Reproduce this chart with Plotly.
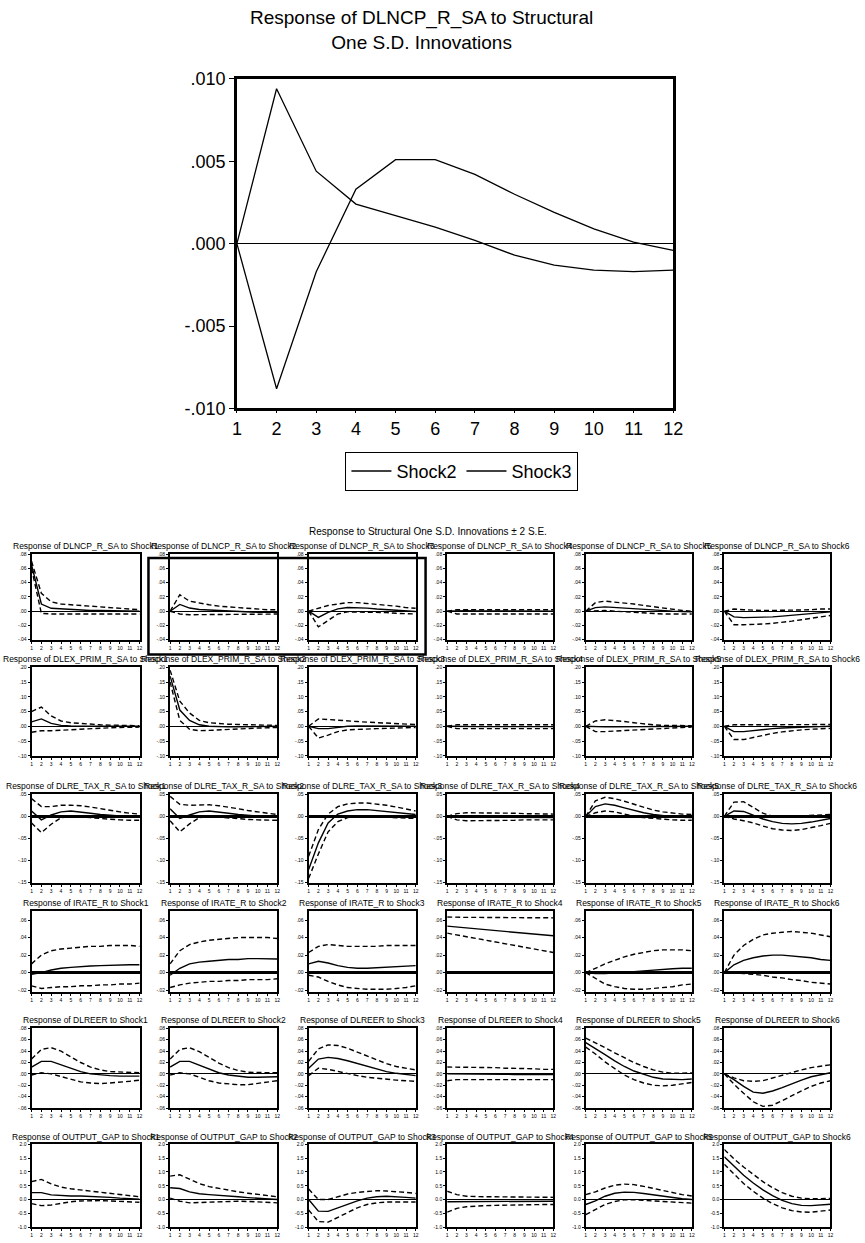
import plotly.graph_objects as go

periods = list(range(1, 13))

# ---------------- Top chart data ----------------
top_shock2 = [0.0, 0.0094, 0.0044, 0.0024, 0.0017, 0.0010, 0.0002, -0.0007, -0.0013, -0.0016, -0.0017, -0.0016]
top_shock3 = [0.0, -0.0088, -0.0017, 0.0033, 0.0051, 0.0051, 0.0042, 0.0030, 0.0019, 0.0009, 0.0001, -0.0004]
top_yticks = [-0.010, -0.005, 0.0, 0.005, 0.010]
top_yticktext = ["-.010", "-.005", ".000", ".005", ".010"]

# ---------------- Grid data (rows = responses, columns = Shock1..Shock6) ----------------
row_vars = ["DLNCP_R_SA", "DLEX_PRIM_R_SA", "DLRE_TAX_R_SA", "IRATE_R", "DLREER", "OUTPUT_GAP"]
shocks = ["Shock1", "Shock2", "Shock3", "Shock4", "Shock5", "Shock6"]

DLNCP_mean = [
    [0.065, 0.010, 0.004, 0.003, 0.002, 0.0015, 0.001, 0.001, 0.0005, 0.0003, 0.0002, 0.0],
    [0.0, 0.0094, 0.0044, 0.0024, 0.0017, 0.0010, 0.0002, -0.0007, -0.0013, -0.0016, -0.0017, -0.0016],
    [0.0, -0.0088, -0.0017, 0.0033, 0.0051, 0.0051, 0.0042, 0.0030, 0.0019, 0.0009, 0.0001, -0.0004],
    [0.0, 0.0005, 0.0005, 0.0004, 0.0003, 0.0002, 0.0001, 0.0, 0.0, -0.0001, -0.0001, -0.0001],
    [0.0, 0.005, 0.006, 0.005, 0.004, 0.003, 0.002, 0.001, 0.0005, 0.0, -0.0005, -0.001],
    [0.0, -0.008, -0.009, -0.009, -0.009, -0.008, -0.007, -0.006, -0.005, -0.003, -0.002, -0.001],
]
DLNCP_upper = [
    [0.070, 0.025, 0.013, 0.010, 0.009, 0.008, 0.007, 0.006, 0.005, 0.004, 0.003, 0.002],
    [0.0, 0.023, 0.014, 0.011, 0.009, 0.007, 0.006, 0.005, 0.004, 0.003, 0.002, 0.002],
    [0.0, 0.004, 0.008, 0.010, 0.012, 0.012, 0.011, 0.010, 0.008, 0.007, 0.005, 0.004],
    [0.0, 0.002, 0.002, 0.002, 0.002, 0.002, 0.002, 0.002, 0.002, 0.002, 0.002, 0.002],
    [0.0, 0.012, 0.014, 0.013, 0.012, 0.010, 0.008, 0.006, 0.004, 0.002, 0.001, 0.0],
    [0.0, 0.003, 0.002, 0.001, 0.001, 0.001, 0.001, 0.001, 0.002, 0.002, 0.003, 0.003],
]
DLNCP_lower = [
    [0.060, -0.003, -0.004, -0.004, -0.004, -0.004, -0.004, -0.004, -0.004, -0.004, -0.004, -0.004],
    [0.0, -0.004, -0.005, -0.005, -0.005, -0.005, -0.005, -0.005, -0.005, -0.005, -0.005, -0.004],
    [0.0, -0.022, -0.013, -0.004, -0.001, -0.001, -0.001, -0.002, -0.002, -0.003, -0.004, -0.004],
    [0.0, -0.004, -0.004, -0.004, -0.004, -0.004, -0.004, -0.004, -0.004, -0.004, -0.004, -0.004],
    [0.0, 0.001, 0.001, 0.0, -0.001, -0.002, -0.003, -0.004, -0.004, -0.004, -0.004, -0.004],
    [0.0, -0.019, -0.019, -0.019, -0.018, -0.017, -0.016, -0.014, -0.012, -0.010, -0.008, -0.006],
]

DLEX_mean = [
    [0.015, 0.025, 0.010, 0.003, 0.001, 0.0005, 0.0, 0.0, 0.0, 0.0, 0.0, 0.0],
    [0.17, 0.055, 0.020, 0.005, 0.0, -0.002, -0.002, -0.002, -0.001, -0.001, 0.0, 0.0],
    [0.0, -0.008, -0.008, -0.003, 0.0, 0.001, 0.001, 0.001, 0.001, 0.0, 0.0, 0.0],
    [0.0, -0.001, -0.001, -0.001, -0.001, -0.001, -0.001, -0.001, -0.001, -0.001, -0.001, -0.001],
    [0.0, -0.002, -0.002, -0.002, -0.002, -0.001, -0.001, 0.0, 0.0, 0.0, 0.0, 0.0],
    [0.0, -0.018, -0.018, -0.014, -0.011, -0.008, -0.006, -0.004, -0.003, -0.002, -0.001, 0.0],
]
DLEX_upper = [
    [0.050, 0.065, 0.035, 0.018, 0.012, 0.009, 0.007, 0.005, 0.004, 0.003, 0.002, 0.002],
    [0.19, 0.085, 0.045, 0.020, 0.012, 0.009, 0.007, 0.006, 0.005, 0.004, 0.003, 0.003],
    [0.0, 0.025, 0.023, 0.020, 0.018, 0.016, 0.014, 0.012, 0.010, 0.008, 0.007, 0.006],
    [0.0, 0.005, 0.005, 0.005, 0.005, 0.005, 0.005, 0.005, 0.005, 0.005, 0.005, 0.005],
    [0.0, 0.018, 0.022, 0.020, 0.016, 0.012, 0.008, 0.005, 0.003, 0.002, 0.002, 0.002],
    [0.0, 0.005, 0.005, 0.005, 0.005, 0.005, 0.006, 0.006, 0.006, 0.006, 0.006, 0.006],
]
DLEX_lower = [
    [-0.020, -0.015, -0.015, -0.013, -0.011, -0.009, -0.007, -0.006, -0.005, -0.004, -0.004, -0.003],
    [0.15, 0.020, -0.010, -0.015, -0.014, -0.012, -0.010, -0.008, -0.007, -0.006, -0.005, -0.004],
    [0.0, -0.040, -0.030, -0.018, -0.012, -0.010, -0.009, -0.008, -0.007, -0.006, -0.005, -0.004],
    [0.0, -0.008, -0.008, -0.008, -0.008, -0.008, -0.008, -0.008, -0.008, -0.008, -0.008, -0.008],
    [0.0, -0.018, -0.018, -0.016, -0.014, -0.012, -0.010, -0.008, -0.006, -0.005, -0.004, -0.003],
    [0.0, -0.045, -0.045, -0.038, -0.030, -0.024, -0.019, -0.015, -0.012, -0.010, -0.008, -0.007],
]

DLRE_mean = [
    [0.012, -0.008, 0.003, 0.010, 0.012, 0.010, 0.007, 0.004, 0.002, 0.0, -0.001, -0.001],
    [0.017, -0.005, 0.003, 0.010, 0.012, 0.010, 0.007, 0.004, 0.002, 0.0, -0.001, -0.001],
    [-0.120, -0.060, -0.015, 0.005, 0.012, 0.015, 0.015, 0.013, 0.011, 0.008, 0.006, 0.004],
    [0.0, -0.001, -0.001, -0.002, -0.002, -0.002, -0.002, -0.002, -0.003, -0.003, -0.003, -0.003],
    [0.0, 0.022, 0.028, 0.025, 0.019, 0.013, 0.008, 0.004, 0.001, -0.001, -0.002, -0.003],
    [0.0, 0.012, 0.011, 0.003, -0.006, -0.012, -0.016, -0.017, -0.016, -0.013, -0.009, -0.005],
]
DLRE_upper = [
    [0.040, 0.022, 0.022, 0.025, 0.025, 0.024, 0.021, 0.017, 0.013, 0.010, 0.007, 0.005],
    [0.045, 0.027, 0.025, 0.026, 0.026, 0.024, 0.021, 0.017, 0.013, 0.010, 0.007, 0.004],
    [-0.090, -0.030, 0.005, 0.022, 0.028, 0.030, 0.030, 0.028, 0.025, 0.021, 0.017, 0.012],
    [0.0, 0.006, 0.008, 0.008, 0.008, 0.008, 0.007, 0.007, 0.006, 0.006, 0.005, 0.005],
    [0.0, 0.035, 0.043, 0.040, 0.034, 0.027, 0.020, 0.014, 0.010, 0.007, 0.005, 0.004],
    [0.0, 0.032, 0.033, 0.020, 0.007, 0.0, -0.001, 0.0, 0.001, 0.002, 0.003, 0.004],
]
DLRE_lower = [
    [-0.015, -0.037, -0.018, -0.003, 0.0, -0.001, -0.003, -0.005, -0.007, -0.008, -0.009, -0.009],
    [-0.010, -0.035, -0.017, -0.003, 0.0, -0.002, -0.004, -0.006, -0.007, -0.008, -0.009, -0.009],
    [-0.140, -0.085, -0.035, -0.012, -0.003, 0.0, 0.0, -0.001, -0.002, -0.003, -0.004, -0.005],
    [0.0, -0.008, -0.010, -0.010, -0.010, -0.009, -0.009, -0.009, -0.008, -0.008, -0.008, -0.008],
    [0.0, 0.008, 0.012, 0.010, 0.005, 0.0, -0.003, -0.005, -0.007, -0.008, -0.009, -0.009],
    [0.0, -0.006, -0.010, -0.015, -0.022, -0.028, -0.031, -0.032, -0.030, -0.026, -0.021, -0.016],
]

IRATE_mean = [
    [-0.002, 0.0, 0.003, 0.005, 0.006, 0.007, 0.0075, 0.008, 0.0085, 0.009, 0.009, 0.009],
    [-0.003, 0.005, 0.010, 0.012, 0.013, 0.014, 0.015, 0.015, 0.016, 0.016, 0.016, 0.0155],
    [0.010, 0.013, 0.011, 0.008, 0.006, 0.005, 0.005, 0.0055, 0.006, 0.0065, 0.007, 0.008],
    [0.053, 0.052, 0.051, 0.050, 0.049, 0.048, 0.047, 0.046, 0.045, 0.044, 0.043, 0.042],
    [0.0, -0.001, -0.001, -0.0005, 0.0, 0.001, 0.002, 0.003, 0.004, 0.0045, 0.005, 0.005],
    [0.0, 0.009, 0.014, 0.017, 0.019, 0.020, 0.020, 0.019, 0.018, 0.017, 0.015, 0.014],
]
IRATE_upper = [
    [0.010, 0.020, 0.025, 0.027, 0.028, 0.029, 0.030, 0.030, 0.031, 0.031, 0.031, 0.030],
    [0.010, 0.025, 0.032, 0.035, 0.037, 0.038, 0.039, 0.040, 0.040, 0.040, 0.040, 0.039],
    [0.023, 0.030, 0.032, 0.031, 0.030, 0.030, 0.030, 0.030, 0.031, 0.031, 0.031, 0.031],
    [0.0635, 0.063, 0.063, 0.063, 0.063, 0.063, 0.0625, 0.0625, 0.0625, 0.0625, 0.0625, 0.0625],
    [0.0, 0.005, 0.010, 0.014, 0.018, 0.021, 0.023, 0.025, 0.026, 0.026, 0.026, 0.025],
    [0.0, 0.020, 0.031, 0.038, 0.043, 0.045, 0.046, 0.047, 0.046, 0.045, 0.043, 0.041],
]
IRATE_lower = [
    [-0.015, -0.018, -0.017, -0.016, -0.016, -0.015, -0.015, -0.014, -0.014, -0.013, -0.013, -0.012],
    [-0.017, -0.014, -0.012, -0.011, -0.010, -0.010, -0.009, -0.009, -0.008, -0.008, -0.008, -0.007],
    [-0.003, -0.005, -0.010, -0.014, -0.017, -0.018, -0.019, -0.019, -0.019, -0.018, -0.017, -0.015],
    [0.045, 0.043, 0.041, 0.039, 0.037, 0.035, 0.033, 0.031, 0.029, 0.027, 0.025, 0.023],
    [0.0, -0.007, -0.013, -0.016, -0.018, -0.019, -0.019, -0.018, -0.017, -0.016, -0.014, -0.013],
    [0.0, 0.0, -0.001, -0.002, -0.003, -0.005, -0.006, -0.008, -0.009, -0.011, -0.012, -0.013],
]

DLREER_mean = [
    [0.012, 0.022, 0.022, 0.016, 0.010, 0.004, 0.0, -0.002, -0.003, -0.004, -0.004, -0.004],
    [0.012, 0.022, 0.022, 0.015, 0.008, 0.002, -0.002, -0.004, -0.006, -0.006, -0.005, -0.005],
    [0.010, 0.026, 0.029, 0.027, 0.023, 0.018, 0.013, 0.008, 0.004, 0.001, -0.001, -0.003],
    [0.0, 0.0, 0.0005, 0.0005, 0.0, 0.0, -0.0005, -0.001, -0.001, -0.001, -0.001, -0.001],
    [0.055, 0.045, 0.034, 0.023, 0.013, 0.005, -0.001, -0.006, -0.009, -0.010, -0.010, -0.009],
    [0.0, -0.010, -0.022, -0.032, -0.034, -0.030, -0.024, -0.017, -0.011, -0.005, -0.001, 0.002],
]
DLREER_upper = [
    [0.026, 0.043, 0.046, 0.040, 0.030, 0.020, 0.012, 0.007, 0.004, 0.003, 0.002, 0.002],
    [0.026, 0.043, 0.046, 0.039, 0.029, 0.019, 0.011, 0.006, 0.003, 0.002, 0.002, 0.002],
    [0.022, 0.044, 0.051, 0.050, 0.045, 0.038, 0.031, 0.024, 0.018, 0.013, 0.010, 0.007],
    [0.012, 0.012, 0.012, 0.012, 0.011, 0.011, 0.010, 0.010, 0.009, 0.009, 0.008, 0.008],
    [0.063, 0.055, 0.046, 0.037, 0.028, 0.020, 0.013, 0.007, 0.003, 0.001, 0.001, 0.002],
    [0.0, -0.007, -0.012, -0.013, -0.012, -0.007, -0.002, 0.003, 0.007, 0.011, 0.014, 0.016],
]
DLREER_lower = [
    [-0.002, 0.002, 0.0, -0.005, -0.010, -0.014, -0.016, -0.017, -0.016, -0.015, -0.013, -0.011],
    [-0.002, 0.002, 0.0, -0.006, -0.012, -0.016, -0.018, -0.019, -0.019, -0.017, -0.015, -0.012],
    [-0.003, 0.010, 0.008, 0.004, 0.0, -0.003, -0.006, -0.008, -0.010, -0.011, -0.012, -0.013],
    [-0.012, -0.010, -0.010, -0.010, -0.010, -0.010, -0.010, -0.010, -0.010, -0.010, -0.010, -0.010],
    [0.047, 0.035, 0.021, 0.009, -0.002, -0.010, -0.016, -0.020, -0.021, -0.020, -0.018, -0.015],
    [0.0, -0.018, -0.034, -0.049, -0.057, -0.055, -0.047, -0.038, -0.030, -0.022, -0.016, -0.012],
]

GAP_mean = [
    [0.25, 0.25, 0.17, 0.14, 0.13, 0.13, 0.12, 0.10, 0.08, 0.05, 0.03, 0.01],
    [0.43, 0.40, 0.28, 0.21, 0.18, 0.16, 0.13, 0.10, 0.07, 0.04, 0.02, 0.0],
    [0.0, -0.42, -0.43, -0.30, -0.17, -0.05, 0.05, 0.10, 0.12, 0.11, 0.08, 0.05],
    [-0.08, -0.08, -0.08, -0.08, -0.08, -0.07, -0.07, -0.07, -0.07, -0.06, -0.06, -0.06],
    [-0.18, -0.05, 0.12, 0.23, 0.27, 0.26, 0.22, 0.17, 0.12, 0.07, 0.03, 0.0],
    [1.55, 1.20, 0.88, 0.60, 0.35, 0.14, -0.03, -0.15, -0.21, -0.22, -0.20, -0.17],
]
GAP_upper = [
    [0.65, 0.73, 0.57, 0.45, 0.39, 0.35, 0.31, 0.27, 0.22, 0.18, 0.14, 0.10],
    [0.85, 0.90, 0.74, 0.58, 0.47, 0.40, 0.34, 0.28, 0.23, 0.18, 0.14, 0.10],
    [0.38, 0.0, 0.0, 0.10, 0.20, 0.26, 0.30, 0.32, 0.31, 0.29, 0.26, 0.22],
    [0.30, 0.18, 0.12, 0.10, 0.10, 0.10, 0.10, 0.10, 0.10, 0.09, 0.08, 0.08],
    [0.18, 0.28, 0.42, 0.52, 0.56, 0.54, 0.48, 0.40, 0.32, 0.24, 0.18, 0.13],
    [1.82, 1.48, 1.18, 0.90, 0.65, 0.43, 0.25, 0.12, 0.05, 0.03, 0.03, 0.04],
]
GAP_lower = [
    [-0.15, -0.22, -0.20, -0.14, -0.08, -0.05, -0.04, -0.04, -0.05, -0.07, -0.09, -0.10],
    [0.05, -0.06, -0.12, -0.11, -0.09, -0.07, -0.06, -0.06, -0.07, -0.09, -0.11, -0.12],
    [-0.38, -0.80, -0.82, -0.65, -0.46, -0.30, -0.18, -0.12, -0.09, -0.09, -0.09, -0.09],
    [-0.46, -0.32, -0.26, -0.23, -0.22, -0.21, -0.20, -0.20, -0.19, -0.19, -0.18, -0.18],
    [-0.55, -0.38, -0.18, -0.07, -0.01, -0.01, -0.03, -0.06, -0.08, -0.10, -0.12, -0.13],
    [1.28, 0.92, 0.58, 0.30, 0.05, -0.15, -0.30, -0.40, -0.45, -0.46, -0.43, -0.38],
]

row_means = [DLNCP_mean, DLEX_mean, DLRE_mean, IRATE_mean, DLREER_mean, GAP_mean]
row_uppers = [DLNCP_upper, DLEX_upper, DLRE_upper, IRATE_upper, DLREER_upper, GAP_upper]
row_lowers = [DLNCP_lower, DLEX_lower, DLRE_lower, IRATE_lower, DLREER_lower, GAP_lower]

row_ranges = [[-0.04, 0.08], [-0.10, 0.20], [-0.15, 0.05], [-0.022, 0.07], [-0.06, 0.08], [-1.0, 2.0]]
row_tickvals = [
    [-0.04, -0.02, 0.0, 0.02, 0.04, 0.06, 0.08],
    [-0.10, -0.05, 0.0, 0.05, 0.10, 0.15, 0.20],
    [-0.15, -0.10, -0.05, 0.0, 0.05],
    [-0.02, 0.0, 0.02, 0.04, 0.06],
    [-0.06, -0.04, -0.02, 0.0, 0.02, 0.04, 0.06, 0.08],
    [-1.0, -0.5, 0.0, 0.5, 1.0, 1.5, 2.0],
]
row_ticktext = [
    ["-.04", "-.02", ".00", ".02", ".04", ".06", ".08"],
    ["-.10", "-.05", ".00", ".05", ".10", ".15", ".20"],
    ["-.15", "-.10", "-.05", ".00", ".05"],
    ["-.02", ".00", ".02", ".04", ".06"],
    ["-.06", "-.04", "-.02", ".00", ".02", ".04", ".06", ".08"],
    ["-1.0", "-0.5", "0.0", "0.5", "1.0", "1.5", "2.0"],
]
row_zero_width = [1.2, 1.2, 2.5, 2.5, 1.2, 1.2]

# ---------------- Layout geometry (pixels) ----------------
W, H = 865, 1243
def fx(p):
    return p / W
def fy(p):
    return 1 - p / H

col_px = [(27, 137), (168, 277), (309, 418), (450, 558), (591, 699), (732, 840)]
row_px = [(553, 640), (668, 758), (797, 887), (916, 998), (1035, 1116), (1153, 1237)]

FONT = "Liberation Sans, Arial, sans-serif"

fig = go.Figure()
layout = dict(
    width=W, height=H,
    margin=dict(l=0, r=0, t=0, b=0),
    paper_bgcolor="white", plot_bgcolor="white",
    font=dict(family=FONT, color="black"),
    showlegend=True,
)

# ---- top chart ----
fig.add_trace(go.Scatter(x=periods, y=top_shock2, mode="lines", name="Shock2",
                         line=dict(color="black", width=1.3), xaxis="x", yaxis="y"))
fig.add_trace(go.Scatter(x=periods, y=top_shock3, mode="lines", name="Shock3",
                         line=dict(color="black", width=1.3), xaxis="x", yaxis="y"))
layout["xaxis"] = dict(domain=[fx(236), fx(680)], anchor="y", range=[1, 12],
                       tickvals=periods, ticktext=[str(p) for p in periods],
                       ticks="outside", ticklen=2, tickwidth=1, tickcolor="black",
                       showline=True, linecolor="black", linewidth=2.5, mirror=True,
                       showgrid=False, zeroline=False, tickangle=0,
                       tickfont=dict(size=18, family=FONT, color="black"))
layout["yaxis"] = dict(domain=[fy(405), fy(70)], anchor="x", range=[-0.010, 0.010],
                       tickvals=top_yticks, ticktext=top_yticktext,
                       ticks="outside", ticklen=5, tickwidth=1, tickcolor="black",
                       showline=True, linecolor="black", linewidth=2.5, mirror=True,
                       showgrid=False, zeroline=True, zerolinecolor="black", zerolinewidth=1.2,
                       tickfont=dict(size=18, family=FONT, color="black"))

annotations = [
    dict(text="Response of DLNCP_R_SA to Structural<br>One S.D. Innovations",
         x=fx(424), y=fy(20), xref="paper", yref="paper", showarrow=False,
         xanchor="center", yanchor="middle", font=dict(size=19, family=FONT, color="black")),
    dict(text="Response to Structural One S.D. Innovations ± 2 S.E.",
         x=fx(430), y=fy(530), xref="paper", yref="paper", showarrow=False,
         xanchor="center", yanchor="middle", font=dict(size=10, family=FONT, color="black")),
]

layout["legend"] = dict(orientation="h", x=fx(465), xanchor="center", y=fy(449), yanchor="top",
                        bordercolor="black", borderwidth=1, bgcolor="white",
                        font=dict(size=18, family=FONT, color="black"),
                        itemwidth=40, tracegroupgap=0)

# ---- grid ----
k = 2
for r in range(6):
    for c in range(6):
        xa, ya = f"x{k}", f"y{k}"
        x0, x1 = col_px[c]
        y0, y1 = row_px[r]
        for series, dash in ((row_uppers[r][c], "5px,3px"), (row_lowers[r][c], "5px,3px"),
                             (row_means[r][c], "solid")):
            fig.add_trace(go.Scatter(x=periods, y=series, mode="lines", showlegend=False,
                                     line=dict(color="black", width=1.4, dash=dash),
                                     xaxis=xa, yaxis=ya, hoverinfo="skip"))
        layout[f"xaxis{k}"] = dict(domain=[fx(x0), fx(x1)], anchor=ya, range=[1, 12],
                                   tickvals=periods, ticktext=[str(p) for p in periods],
                                   ticks="outside", ticklen=2, tickwidth=1, tickcolor="black",
                                   showline=True, linecolor="black", linewidth=2, mirror=True,
                                   showgrid=False, zeroline=False, tickangle=0,
                                   tickfont=dict(size=5, family=FONT, color="black"))
        layout[f"yaxis{k}"] = dict(domain=[fy(y1), fy(y0)], anchor=xa, range=row_ranges[r],
                                   tickvals=row_tickvals[r], ticktext=row_ticktext[r],
                                   ticks="outside", ticklen=2, tickwidth=1, tickcolor="black",
                                   showline=True, linecolor="black", linewidth=2, mirror=True,
                                   showgrid=False, zeroline=True, zerolinecolor="black",
                                   zerolinewidth=row_zero_width[r],
                                   tickfont=dict(size=5, family=FONT, color="black"))
        annotations.append(dict(text=f"Response of {row_vars[r]} to {shocks[c]}",
                                x=fx((x0 + x1) / 2), y=fy(y0 - 8), xref="paper", yref="paper",
                                showarrow=False, xanchor="center", yanchor="middle",
                                font=dict(size=8.5, family=FONT, color="black")))
        k += 1

layout["annotations"] = annotations
layout["shapes"] = [dict(type="rect", xref="paper", yref="paper",
                         x0=fx(146), x1=fx(428), y0=fy(655), y1=fy(557),
                         line=dict(color="black", width=2.5), fillcolor="rgba(0,0,0,0)")]

fig.update_layout(**layout)
fig.write_html("out.html")
